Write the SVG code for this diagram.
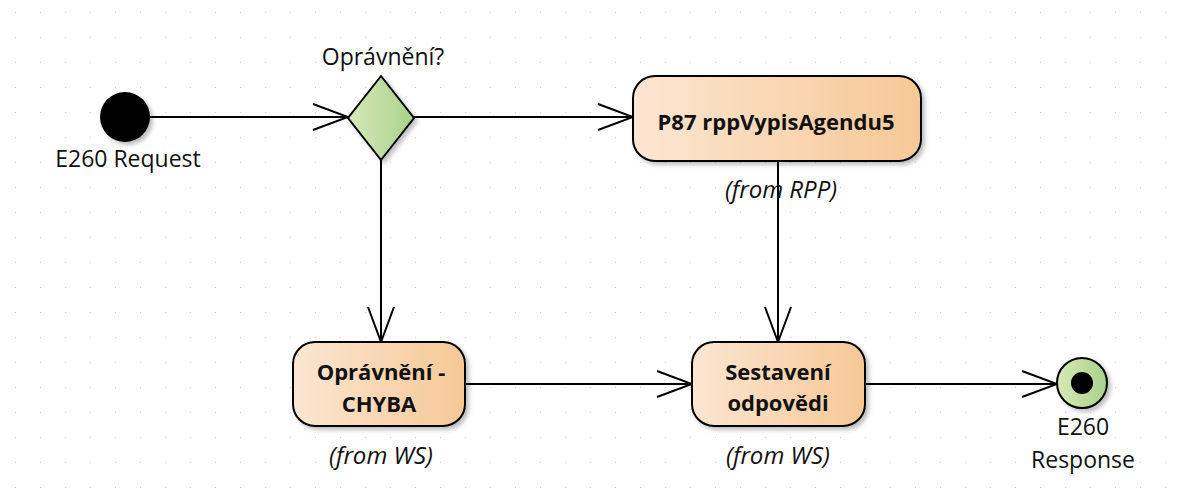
<svg xmlns="http://www.w3.org/2000/svg" width="1186" height="488" viewBox="0 0 1186 488">
  <defs>
    <pattern id="grid" x="15" y="12" width="25" height="25" patternUnits="userSpaceOnUse">
      <rect x="-0.75" y="-0.75" width="1.6" height="1.6" fill="#bdbdbd"/>
    </pattern>
    <linearGradient id="boxFill" x1="0" y1="0" x2="1" y2="0">
      <stop offset="0" stop-color="#fce6d2"/>
      <stop offset="1" stop-color="#f7c896"/>
    </linearGradient>
    <linearGradient id="greenFill" x1="0" y1="0" x2="1" y2="0">
      <stop offset="0" stop-color="#d7e9b9"/>
      <stop offset="1" stop-color="#a9d18b"/>
    </linearGradient>
    <filter id="shadow" x="-20%" y="-20%" width="150%" height="150%">
      <feDropShadow dx="3" dy="3" stdDeviation="2" flood-color="#000" flood-opacity="0.25"/>
    </filter>
    <marker id="open" viewBox="-37 -15 39 30" refX="0" refY="0" markerWidth="39" markerHeight="30" markerUnits="userSpaceOnUse" orient="auto">
      <path d="M-35,-13 L0,0 L-35,13" fill="none" stroke="#000" stroke-width="2"/>
    </marker>
    <style>
      .lbl { font-family: "Open Sans", "Noto Sans", sans-serif; font-size: 23px; fill: #111; }
      .bold { font-family: "Open Sans", "Noto Sans", sans-serif; font-size: 22px; font-weight: bold; fill: #111; }
      .from { font-family: "Open Sans", "Noto Sans", sans-serif; font-size: 24px; font-style: italic; fill: #111; }
      .box { fill: url(#boxFill); stroke: #000; stroke-width: 2; filter: url(#shadow); }
      .edge { fill: none; stroke: #000; stroke-width: 2; marker-end: url(#open); }
    </style>
  </defs>
  <rect width="1186" height="488" fill="#fff"/>
  <rect width="1186" height="488" fill="url(#grid)"/>

  <g id="connectors">
    <path class="edge" d="M150,117 L348,117"/>
    <path class="edge" d="M414,117 L633,117"/>
    <path class="edge" d="M381,160 L381,342"/>
    <path class="edge" d="M778,161 L778,342"/>
    <path class="edge" d="M465,384 L692,384"/>
    <path class="edge" d="M865,384 L1057,384"/>
  </g>

  <g id="start">
    <circle cx="125" cy="117" r="25" fill="#000" filter="url(#shadow)"/>
    <text class="lbl" x="128" y="167" text-anchor="middle">E260 Request</text>
  </g>

  <g id="decision">
    <polygon points="381,76 414,118 381,160 348,118" fill="url(#greenFill)" stroke="#000" stroke-width="2" filter="url(#shadow)"/>
    <text class="lbl" x="383" y="65" text-anchor="middle">Oprávnění?</text>
  </g>

  <g id="p87">
    <rect class="box" x="633" y="76" width="288" height="85" rx="22" ry="22"/>
    <text class="bold" x="776" y="130" text-anchor="middle">P87 rppVypisAgendu5</text>
    <text class="from" x="781" y="198" text-anchor="middle">(from RPP)</text>
  </g>

  <g id="chyba">
    <rect class="box" x="293" y="342" width="172" height="84" rx="22" ry="22"/>
    <text class="bold" x="381" y="380" text-anchor="middle">Oprávnění -</text>
    <text class="bold" x="379" y="412" text-anchor="middle">CHYBA</text>
    <text class="from" x="381" y="464" text-anchor="middle">(from WS)</text>
  </g>

  <g id="sestaveni">
    <rect class="box" x="692" y="342" width="173" height="84" rx="22" ry="22"/>
    <text class="bold" x="778" y="380" text-anchor="middle">Sestavení</text>
    <text class="bold" x="778" y="411" text-anchor="middle">odpovědi</text>
    <text class="from" x="778" y="464" text-anchor="middle">(from WS)</text>
  </g>

  <g id="end">
    <circle cx="1082" cy="383" r="25" fill="url(#greenFill)" stroke="#000" stroke-width="2" filter="url(#shadow)"/>
    <circle cx="1082" cy="383" r="11" fill="#000"/>
    <text class="lbl" x="1083" y="435" text-anchor="middle">E260</text>
    <text class="lbl" x="1083" y="468" text-anchor="middle">Response</text>
  </g>
</svg>
